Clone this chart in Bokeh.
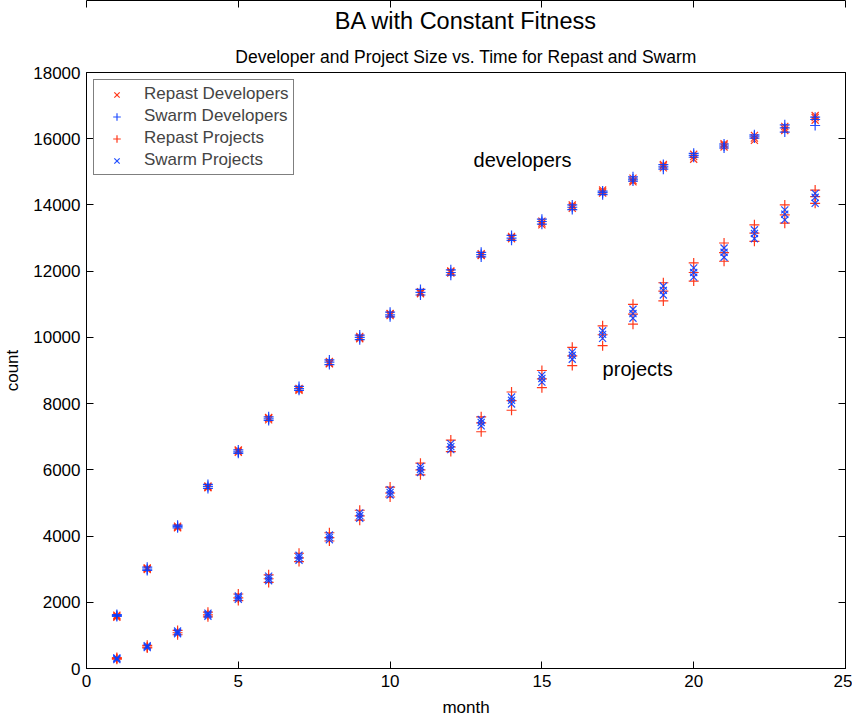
from bokeh.plotting import figure
from bokeh.models import Title, LinearAxis, FixedTicker, CustomJSTickFormatter, Label, Legend, LegendItem, ColumnDataSource
from bokeh.embed import file_html
from bokeh.resources import INLINE

months = list(range(1, 25))

repast_dev_runs = [
    [1580, 2990, 4250, 5460, 6530, 7510, 8400, 9220, 9990, 10660, 11320, 11940, 12470, 12980, 13450, 13900, 14360, 14740, 15120, 15460, 15750, 16020, 16300, 16560],
    [1610, 3020, 4300, 5510, 6570, 7560, 8460, 9270, 10030, 10700, 11380, 11980, 12530, 13020, 13510, 13960, 14400, 14810, 15180, 15530, 15810, 16100, 16370, 16640],
    [1550, 3040, 4270, 5480, 6600, 7580, 8430, 9200, 9960, 10720, 11350, 12010, 12490, 13050, 13400, 14000, 14450, 14700, 15220, 15380, 15850, 15950, 16250, 16700],
]
swarm_dev_runs = [
    [1600, 3000, 4290, 5500, 6540, 7540, 8450, 9250, 10000, 10680, 11360, 11960, 12500, 13000, 13500, 13930, 14370, 14780, 15150, 15500, 15780, 16080, 16330, 16580],
    [1630, 3060, 4330, 5560, 6600, 7600, 8520, 9320, 10070, 10760, 11450, 12040, 12570, 13080, 13570, 14000, 14420, 14850, 15220, 15560, 15840, 16120, 16420, 16650],
    [1570, 2960, 4250, 5440, 6500, 7490, 8400, 9180, 9930, 10620, 11280, 11880, 12430, 12930, 13420, 13860, 14310, 14720, 15080, 15440, 15720, 16020, 16200, 16400],
]
repast_proj_runs = [
    [300, 650, 1080, 1620, 2130, 2710, 3340, 3950, 4610, 5300, 6000, 6690, 7420, 8090, 8750, 9440, 10080, 10700, 11400, 11960, 12560, 13150, 13700, 14250],
    [330, 700, 1150, 1700, 2250, 2830, 3480, 4100, 4780, 5480, 6200, 6900, 7600, 8350, 9000, 9700, 10350, 11000, 11650, 12250, 12850, 13400, 14000, 14450],
    [280, 620, 1020, 1560, 2050, 2600, 3230, 3850, 4480, 5180, 5850, 6550, 7150, 7800, 8480, 9150, 9750, 10400, 11100, 11700, 12300, 12900, 13450, 14050],
]
swarm_proj_runs = [
    [300, 660, 1090, 1630, 2140, 2720, 3350, 3960, 4620, 5320, 6010, 6700, 7430, 8100, 8760, 9460, 10090, 10720, 11420, 11960, 12570, 13140, 13720, 14230],
    [320, 690, 1130, 1670, 2190, 2790, 3420, 4030, 4700, 5400, 6100, 6790, 7520, 8200, 8860, 9560, 10200, 10850, 11550, 12100, 12700, 13250, 13850, 14350],
    [270, 630, 1050, 1580, 2090, 2650, 3270, 3890, 4540, 5240, 5920, 6610, 7330, 7990, 8650, 9340, 9970, 10580, 11280, 11820, 12420, 12980, 13550, 14050],
]

x_ticks = [0, 5, 10, 15, 20, 25]
y_ticks = [0, 2000, 4000, 6000, 8000, 10000, 12000, 14000, 16000, 18000]

title_main = "BA with Constant Fitness"
title_sub = "Developer and Project Size vs. Time for Repast and Swarm"
legend_labels = ["Repast Developers", "Swarm Developers", "Repast Projects", "Swarm Projects"]

RED = "#ff2200"
BLUE = "#0a3cff"
FONT = "Liberation Sans"

p = figure(width=852, height=719, output_backend="svg", toolbar_location=None,
           x_range=(0, 25), y_range=(0, 18000), title=None,
           min_border_left=85, min_border_right=7, min_border_top=20, min_border_bottom=40)
p.background_fill_color = "white"
p.border_fill_color = "white"
p.outline_line_color = "black"
p.xgrid.visible = False
p.ygrid.visible = False

sub = Title(text=title_sub, align="center", text_font=FONT, text_font_size="17.5px",
            text_font_style="normal", text_color="black", standoff=12)
main = Title(text=title_main, align="center", text_font=FONT, text_font_size="23.5px",
             text_font_style="normal", text_color="black")
p.add_layout(sub, "above")
p.add_layout(main, "above")

xb = p.below[0]
yl = p.left[0]
top_ax = LinearAxis()
right_ax = LinearAxis()
p.add_layout(top_ax, "above")
p.add_layout(right_ax, "right")


def style_axis(ax, ticks, labels=True):
    ax.ticker = FixedTicker(ticks=ticks)
    ax.major_tick_in = 7
    ax.major_tick_out = 0
    ax.minor_tick_in = 0
    ax.minor_tick_out = 0
    ax.axis_line_color = "black"
    ax.major_tick_line_color = "black"
    ax.major_label_text_font = FONT
    ax.major_label_text_font_size = "17px"
    ax.major_label_text_color = "black"
    ax.axis_label_text_font = FONT
    ax.axis_label_text_font_size = "17px"
    ax.axis_label_text_font_style = "normal"
    ax.axis_label_text_color = "black"
    ax.major_label_standoff = 6
    if not labels:
        ax.formatter = CustomJSTickFormatter(code="return ''")
        ax.major_label_standoff = 0


style_axis(xb, x_ticks)
style_axis(yl, y_ticks)
style_axis(top_ax, x_ticks, labels=False)
style_axis(right_ax, y_ticks, labels=False)
xb.axis_label = "month"
yl.axis_label = "count"
xb.axis_label_standoff = 8
yl.axis_label_standoff = 8
yl.major_label_orientation = "horizontal"

series = [
    (repast_dev_runs, "x", RED),
    (swarm_dev_runs, "cross", BLUE),
    (repast_proj_runs, "cross", RED),
    (swarm_proj_runs, "x", BLUE),
]
legend_items = []
for (runs, marker, color), label in zip(series, legend_labels):
    xs, ys = [], []
    for run in runs:
        xs.extend(months)
        ys.extend(run)
    src = ColumnDataSource(dict(x=xs, y=ys))
    r = p.scatter("x", "y", source=src, marker=marker, size=10, line_color=color,
                  line_width=1.2, line_alpha=0.9)
    legend_items.append(LegendItem(label=label, renderers=[r]))

legend = Legend(items=legend_items, location="top_left", margin=7, padding=4,
                spacing=2, label_text_font=FONT, label_text_font_size="17px",
                label_height=19, glyph_height=19, glyph_width=37,
                border_line_color="black", border_line_width=1,
                background_fill_alpha=1.0, label_standoff=9)
p.add_layout(legend)

p.add_layout(Label(x=12.75, y=15350, text="developers", text_font=FONT,
                   text_font_size="20px", text_baseline="middle", text_color="black"))
p.add_layout(Label(x=17.0, y=9060, text="projects", text_font=FONT,
                   text_font_size="20px", text_baseline="middle", text_color="black"))

open("out.html", "w").write(file_html(p, INLINE))
